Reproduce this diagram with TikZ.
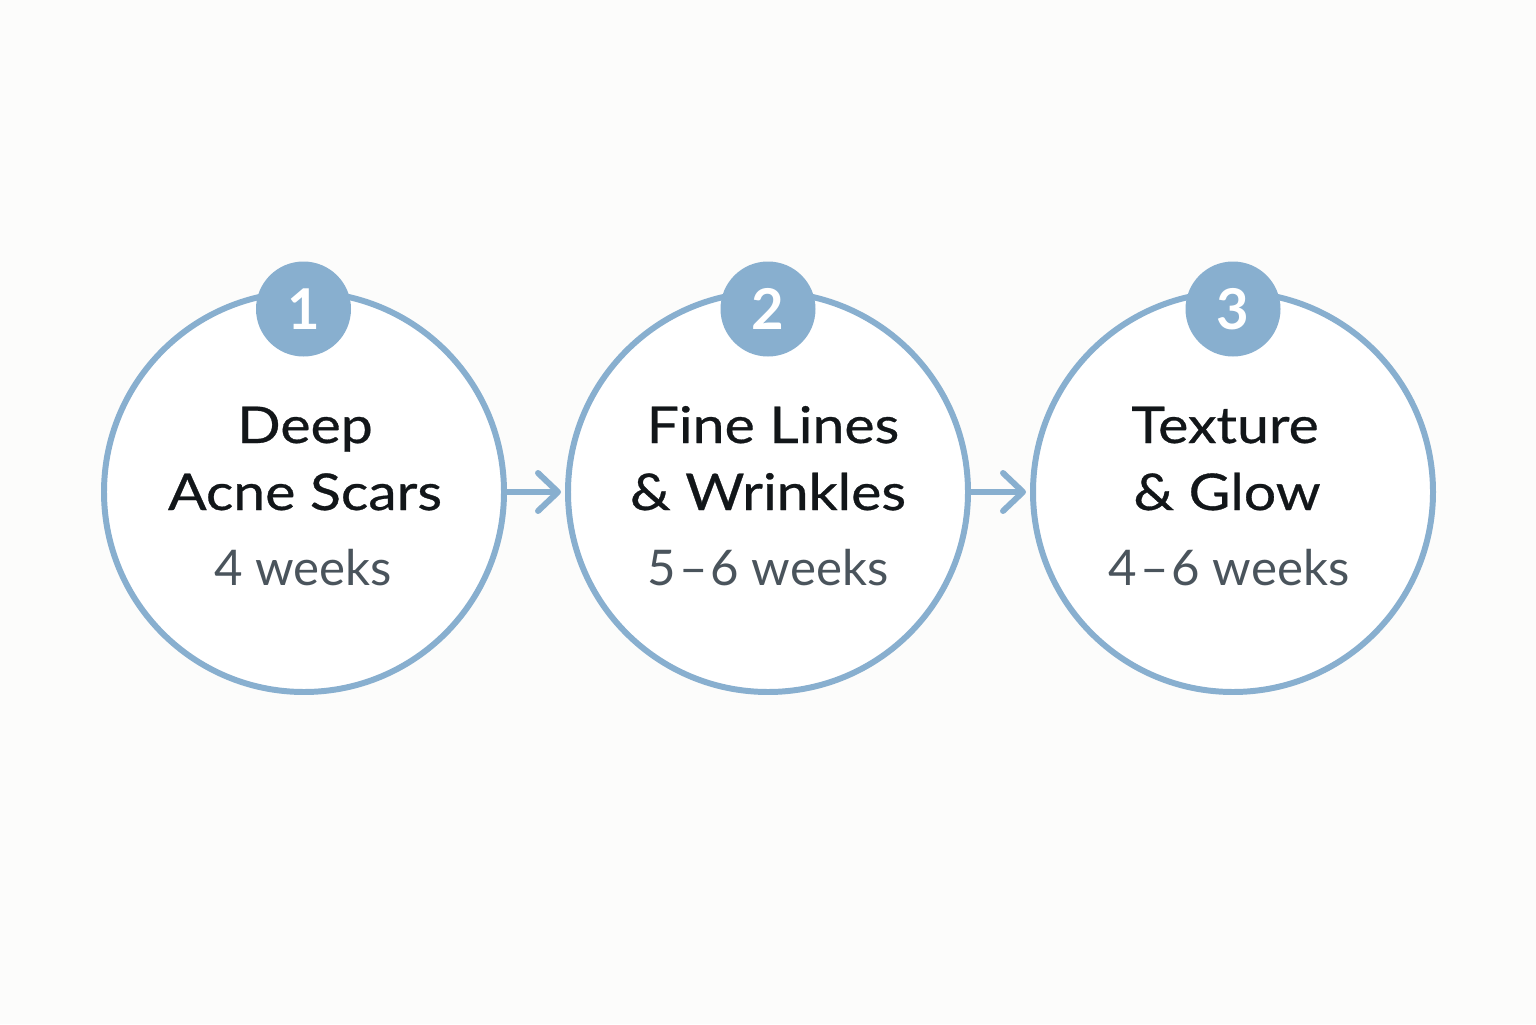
\documentclass[tikz,border=0pt]{standalone}
\usepackage{fontspec}
\setmainfont{Lato}
\newfontfamily\titlefont[FakeStretch=1.13, FakeBold=0.6]{Lato}
\usetikzlibrary{arrows.meta}
\definecolor{bg}{HTML}{FCFCFB}
\definecolor{ringblue}{HTML}{88AFCF}
\definecolor{titlecol}{HTML}{121619}
\definecolor{weekcol}{HTML}{4A545C}
\tikzset{
  ring/.style={circle, draw=ringblue, fill=white, line width=1.7pt, minimum size=4cm, inner sep=0pt, outer sep=0pt},
  badge/.style={circle, fill=ringblue, minimum size=0.95cm, inner sep=0pt, outer sep=0pt, text=white, font=\fontsize{16}{16}\selectfont\bfseries},
  title/.style={anchor=base, text=titlecol, font=\titlefont\fontsize{14.4}{14.4}\selectfont, inner sep=0pt},
  weeks/.style={anchor=base, text=weekcol, font=\fontsize{14}{14}\selectfont, inner sep=0pt},
  flow/.style={draw=ringblue, line width=1.7pt, line cap=round, -{Straight Barb[length=0.2cm, width=0.38cm, line width=1.7pt, round]}, shorten >=0.07cm}
}
\newcommand{\rng}{\kern0.06em–\kern0.06em}
\begin{document}
\begin{tikzpicture}
\fill[bg] (0,0) rectangle (15.36,10.24);
\useasboundingbox (0,0) rectangle (15.36,10.24);

\node[ring] (c1) at (3.04,5.32) {};
\node[ring] (c2) at (7.68,5.32) {};
\node[ring] (c3) at (12.33,5.32) {};

\node[badge] (b1) at (3.035,7.15) {1};
\node[badge] (b2) at (7.68,7.15) {2};
\node[badge] (b3) at (12.33,7.15) {3};

\draw[flow] (c1.east) -- (c2.west);
\draw[flow] (c2.east) -- (c3.west);

\node[title] (t1a) at (3.05,5.81) {Deep};
\node[title] (t1b) at (3.05,5.14) {Acne Scars};
\node[weeks] (w1) at (3.03,4.39) {4 weeks};

\node[title] (t2a) at (7.73,5.81) {Fine Lines};
\node[title] (t2b) at (7.68,5.14) {\& Wrinkles};
\node[weeks] (w2) at (7.68,4.39) {5\rng6 weeks};

\node[title] (t3a) at (12.25,5.81) {Texture};
\node[title] (t3b) at (12.27,5.14) {\& Glow};
\node[weeks] (w3) at (12.29,4.39) {4\rng6 weeks};
\end{tikzpicture}
\end{document}
